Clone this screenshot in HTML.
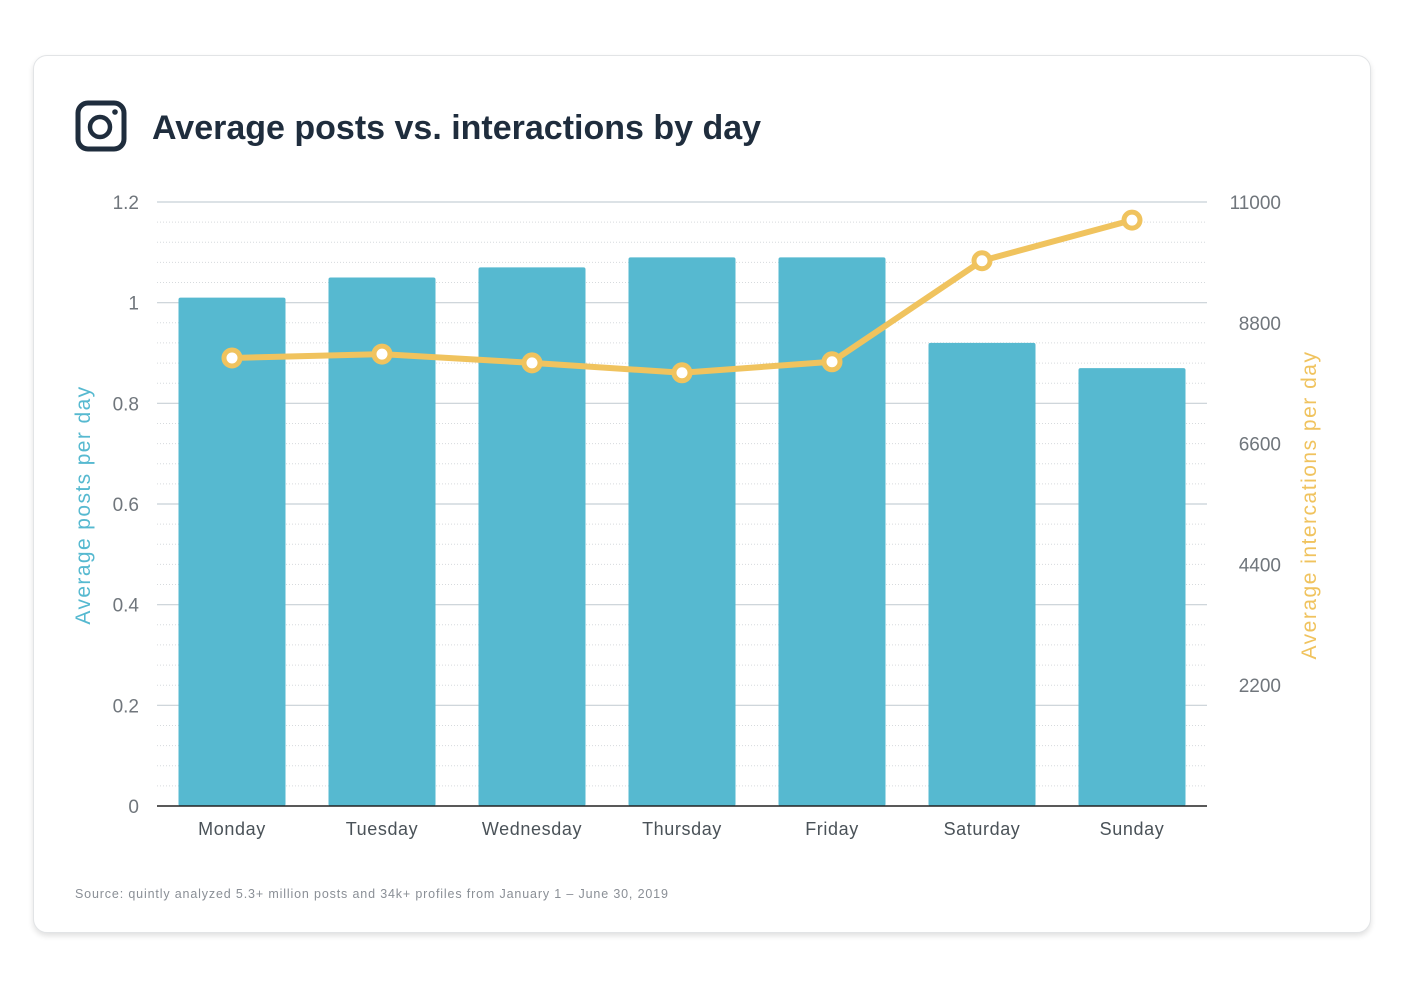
<!DOCTYPE html>
<html><head><meta charset="utf-8"><style>
html,body{margin:0;padding:0;background:#fff;width:1403px;height:992px;overflow:hidden;font-family:"Liberation Sans",sans-serif}
#card{position:absolute;left:33px;top:55px;width:1336px;height:876px;border:1px solid #e2e4e6;border-radius:14px;box-shadow:0 3px 6px rgba(0,0,0,0.12);background:#fff}
</style></head><body>
<div id="card"></div>
<svg id="chart" width="1403" height="992" style="position:absolute;left:0;top:0">
<g>
<rect x="78" y="103" width="46" height="46" rx="10" fill="none" stroke="#1f2d3d" stroke-width="5"/>
<circle cx="100" cy="127" r="10" fill="none" stroke="#1f2d3d" stroke-width="4.5"/>
<circle cx="115" cy="112" r="2.8" fill="#1f2d3d"/>
</g>
<text x="152" y="139" font-size="34" font-weight="bold" fill="#1f2d3d">Average posts vs. interactions by day</text>
<g id="grid"></g><g id="bars"></g><g id="axes"></g><g id="line"></g>
<text transform="translate(90,505) rotate(-90)" text-anchor="middle" font-size="21" letter-spacing="1.4" fill="#56b9d0">Average posts per day</text>
<text transform="translate(1316,505) rotate(-90)" text-anchor="middle" font-size="21" letter-spacing="1.5" fill="#f0c35e">Average intercations per day</text>
<text x="75" y="898" font-size="12.5" letter-spacing="0.85" fill="#8a8f96">Source: quintly analyzed 5.3+ million posts and 34k+ profiles from January 1 – June 30, 2019</text>
</svg>
<script>
const days=["Monday","Tuesday","Wednesday","Thursday","Friday","Saturday","Sunday"];
const posts=[1.01,1.05,1.07,1.09,1.09,0.92,0.87];
const interactions=[8160,8230,8070,7890,8090,9930,10670];
const leftTicks=["0","0.2","0.4","0.6","0.8","1","1.2"];
const rightTicks=["2200","4400","6600","8800","11000"];
const NS="http://www.w3.org/2000/svg";
const x0=157,x1=1207,yB=806,yT=202,lMax=1.2,rMax=11000;
const yL=v=>yB-(v/lMax)*(yB-yT);
const yR=v=>yB-(v/rMax)*(yB-yT);
const band=(x1-x0)/days.length;
const xC=i=>x0+band*(i+0.5);
function mk(t,a,p){const e=document.createElementNS(NS,t);for(const k in a)e.setAttribute(k,a[k]);p.appendChild(e);return e;}
const grid=document.getElementById('grid'),bars=document.getElementById('bars'),axes=document.getElementById('axes'),line=document.getElementById('line');
for(let j=0;j<=30;j++){const v=j*lMax/30;const y=yL(v);
 if(j%5===0){if(j>0){const g=mk('line',{x1:x0,x2:x1,y1:y,y2:y,stroke:'#c8d0d6','stroke-width':1.2},grid);
 
 }}
 else{const g=mk('line',{x1:x0,x2:x1,y1:y,y2:y,stroke:'#d6dadd','stroke-width':1,'stroke-dasharray':'1 2'},grid);
 
 }}
leftTicks.forEach(t=>{const e=mk('text',{x:139,y:yL(parseFloat(t))+7,'text-anchor':'end','font-size':19,fill:'#70767c'},axes);e.textContent=t;
 
 });
rightTicks.forEach(t=>{const e=mk('text',{x:1281,y:yR(parseFloat(t))+7,'text-anchor':'end','font-size':19,fill:'#70767c'},axes);e.textContent=t;
 
 });
const bw=107;
days.forEach((d,i)=>{const r=mk('rect',{x:xC(i)-bw/2,y:yL(posts[i]),width:bw,height:yB-yL(posts[i]),rx:2,fill:'#56b9d0'},bars);
 
 
 const t=mk('text',{x:xC(i),y:835,'text-anchor':'middle','font-size':18,'letter-spacing':0.6,fill:'#4a5258'},axes);t.textContent=d;
 
 });
const base=mk('line',{x1:x0,x2:x1,y1:yB,y2:yB,stroke:'#222','stroke-width':1.5},axes);


const pl=mk('polyline',{points:interactions.map((v,i)=>xC(i)+','+yR(v)).join(' '),fill:'none',stroke:'#f0c35e','stroke-width':6,'stroke-linejoin':'round'},line);


interactions.forEach((v,i)=>{const c=mk('circle',{cx:xC(i),cy:yR(v),r:8,fill:'#fff',stroke:'#f0c35e','stroke-width':5},line);
 
 });
</script>
</body></html>
